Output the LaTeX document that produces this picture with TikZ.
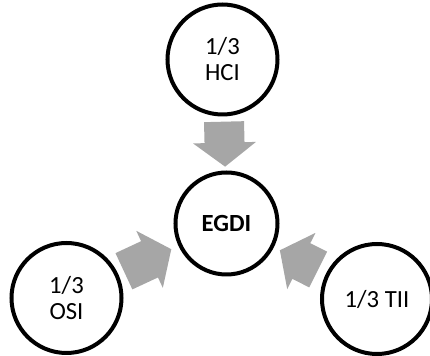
\documentclass[tikz,border=0pt]{standalone}
\usepackage{fontspec}
\setmainfont{Carlito}
\usetikzlibrary{calc}
\definecolor{arrowgray}{HTML}{A6A6A6}
\tikzset{
  ring/.style={circle, draw=black, line width=3pt, fill=white, inner sep=0pt,
    minimum size=82.5pt, align=center, font=\fontsize{18.5}{19.5}\selectfont},
  hub/.style={ring, minimum size=76.5pt, font=\fontsize{18.5}{19.5}\selectfont\bfseries},
  arrowfill/.style={fill=arrowgray}
}
\newcommand\bigarrow[6]{%
  \coordinate (#6s) at ($(#1)!#3!(#2)$);
  \coordinate (#6b) at ($(#1)!#4!(#2)$);
  \coordinate (#6t) at ($(#1)!#5!(#2)$);
  \fill[arrowfill] ($(#6s)!15pt!90:(#2)$) -- ($(#6b)!15pt!90:(#2)$)
    -- ($(#6b)!23.6pt!90:(#2)$) -- (#6t) -- ($(#6b)!23.6pt!-90:(#2)$)
    -- ($(#6b)!15pt!-90:(#2)$) -- ($(#6s)!15pt!-90:(#2)$) -- cycle;
}
\begin{document}
\begin{tikzpicture}[x=0.75pt, y=-0.75pt]
  \useasboundingbox (0,0) rectangle (430,356);
  \clip (0,0) rectangle (430,356);
  \node[ring] (hci) at (222.5,59.5) {1/3\\HCI};
  \node[hub]  (egdi) at (226.5,223.5) {EGDI};
  \node[ring] (osi) at (66.5,298) {1/3\\OSI};
  \node[ring] (tii) at (377,299) {1/3 TII};
  \bigarrow{hci}{egdi}{46.65pt}{62.4pt}{80.4pt}{a1}
  \bigarrow{osi}{egdi}{47.5pt}{68.7pt}{86.7pt}{a2}
  \bigarrow{tii}{egdi}{49.35pt}{63.5pt}{81.5pt}{a3}
\end{tikzpicture}
\end{document}
